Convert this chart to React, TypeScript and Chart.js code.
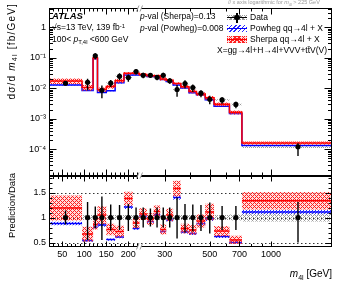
import React, { useEffect, useRef } from 'react';
import { Chart, Scale, registerables } from 'chart.js';

// ---------------- data ----------------
const BIN_EDGES = [20, 95, 120, 130, 150, 170, 190, 210, 225, 245, 265, 285, 305, 330, 360, 395, 430, 475, 525, 625, 720, 2000];
const DATA_XS = [0.0146, 0.0157, 0.116, 0.0086, 0.0149, 0.0247, 0.0224, 0.0352, 0.0267, 0.0267, 0.0229, 0.0267, 0.0176, 0.0091, 0.0143, 0.0105, 0.0069, 0.00436, 0.00413, 0.00294, 0.000119];
const DATA_ERR_UP = [0.14, 0.31, 0.22, 0.42, 0.26, 0.25, 0.27, 0.2, 0.2, 0.18, 0.2, 0.2, 0.2, 0.4, 0.27, 0.26, 0.25, 0.3, 0.23, 0.23, 0.31];
const DATA_ERR_DOWN = [0.14, 0.45, 0.22, 0.45, 0.26, 0.25, 0.27, 0.2, 0.2, 0.18, 0.2, 0.2, 0.2, 0.42, 0.3, 0.28, 0.27, 0.32, 0.25, 0.25, 0.5];
const DATA_SYST = [0.05, 0.05, 0.05, 0.05, 0.05, 0.05, 0.05, 0.05, 0.05, 0.05, 0.05, 0.05, 0.05, 0.05, 0.05, 0.05, 0.05, 0.05, 0.05, 0.06, 0.08];
const SHERPA_XS = [0.01737, 0.01052, 0.100, 0.00903, 0.01132, 0.01778, 0.03091, 0.03133, 0.02857, 0.0259, 0.02565, 0.02029, 0.01848, 0.01438, 0.01115, 0.00788, 0.00642, 0.00484, 0.00301, 0.00162, 0.000159];
const SHERPA_UNC = [0.21, 0.22, 0.12, 0.17, 0.15, 0.16, 0.1, 0.12, 0.11, 0.12, 0.11, 0.13, 0.12, 0.1, 0.12, 0.13, 0.14, 0.15, 0.14, 0.15, 0.13];
const POWHEG_XS = [0.01285, 0.00848, 0.094, 0.00731, 0.00834, 0.01507, 0.0271, 0.02746, 0.0275, 0.02456, 0.02427, 0.01922, 0.01672, 0.01274, 0.01015, 0.00714, 0.00607, 0.00423, 0.00256, 0.00147, 0.000132];
const POWHEG_UNC = [0.04, 0.05, 0.04, 0.04, 0.04, 0.04, 0.03, 0.03, 0.03, 0.03, 0.03, 0.03, 0.03, 0.03, 0.04, 0.04, 0.04, 0.04, 0.05, 0.05, 0.04];

const X_MIN = 20;
const X_MAX = 2000;
const X_BREAK = 225;
const X_MAJOR_TICKS = [50, 100, 150, 200, 300, 500, 700, 1000];
const X_MINOR_TICKS = [30, 40, 60, 70, 80, 90, 110, 120, 130, 140, 160, 170, 180, 190, 210, 220, 400, 600, 800, 900];
const Y_TOP_MIN = 1.3e-5;
const Y_TOP_MAX = 4.2;
const RATIO_MIN = 0.41;
const RATIO_MAX = 1.83;
const RATIO_TICKS = [0.5, 1, 1.5];
const RATIO_MINOR_TICKS = [0.6, 0.7, 0.8, 0.9, 1.1, 1.2, 1.3, 1.4, 1.6, 1.7, 1.8];

const FONT = "'Liberation Sans', Arial, Helvetica, sans-serif";

// ---------------- hybrid linear/log x scale ----------------
const LOG_K = 200; // linear-equivalent units per e-fold above the break
const fwd = (m: number) => (m <= X_BREAK ? m : X_BREAK + LOG_K * Math.log(m / X_BREAK));
const inv = (u: number) => (u <= X_BREAK ? u : X_BREAK * Math.exp((u - X_BREAK) / LOG_K));

class HybridScale extends Scale {
  static id = 'hybrid';
  static defaults = {};
  determineDataLimits() {
    this.min = X_MIN;
    this.max = X_MAX;
  }
  buildTicks() {
    return [...X_MAJOR_TICKS.map((v) => ({ value: v, major: true })), ...X_MINOR_TICKS.map((v) => ({ value: v }))].sort(
      (a, b) => a.value - b.value
    );
  }
  getLabelForValue(v: number) {
    return String(v);
  }
  getPixelForValue(v: number) {
    const a = fwd(this.min), b = fwd(this.max);
    return this.getPixelForDecimal((fwd(v) - a) / (b - a));
  }
  getValueForPixel(p: number) {
    const a = fwd(this.min), b = fwd(this.max);
    return inv(a + this.getDecimalForPixel(p) * (b - a));
  }
}

Chart.register(...registerables, HybridScale);

// ---------------- helpers ----------------
const CENTERS = DATA_XS.map((_, i) => (BIN_EDGES[i] + BIN_EDGES[i + 1]) / 2);

function stepSeries(vals: number[]) {
  const pts = vals.map((v, i) => ({ x: BIN_EDGES[i], y: v }));
  pts.push({ x: BIN_EDGES[vals.length], y: vals[vals.length - 1] });
  return pts;
}
function segSeries(vals: number[]) {
  const pts: any[] = [];
  vals.forEach((v, i) => {
    pts.push({ x: BIN_EDGES[i], y: v }, { x: BIN_EDGES[i + 1], y: v }, { x: BIN_EDGES[i + 1], y: null });
  });
  return pts;
}
function barSeries(lo: number[], hi: number[]) {
  const pts: any[] = [];
  CENTERS.forEach((x, i) => {
    pts.push({ x, y: lo[i] }, { x, y: hi[i] }, { x, y: null });
  });
  return pts;
}
function band(yAxisID: string, lo: number[], hi: number[], pattern: any, order: number) {
  return [
    { type: 'line', yAxisID, data: stepSeries(lo), stepped: true, borderWidth: 0, borderColor: 'transparent', pointRadius: 0, fill: false, order },
    { type: 'line', yAxisID, data: stepSeries(hi), stepped: true, borderWidth: 0, borderColor: 'transparent', pointRadius: 0, fill: '-1', backgroundColor: pattern, order },
  ];
}

function makePattern(kind: 'red' | 'blue' | 'gray') {
  const c = document.createElement('canvas');
  const s = kind === 'blue' ? 3 : 4;
  c.width = s;
  c.height = s;
  const g = c.getContext('2d')!;
  if (kind === 'red') {
    g.fillStyle = 'rgba(255,120,120,0.25)';
    g.fillRect(0, 0, s, s);
  }
  g.fillStyle = kind === 'red' ? '#ff2020' : kind === 'blue' ? '#2a2aff' : '#9a9a9a';
  for (let x = 0; x < s; x++)
    for (let y = 0; y < s; y++) {
      const d1 = (x + y) % s === 0;
      const d2 = (x - y + s) % s === 0;
      if (kind === 'blue' ? d1 : d1 || d2) g.fillRect(x, y, 1, 1);
    }
  return g.createPattern(c, 'repeat');
}

const SUP: Record<string, string> = { '-': '⁻', '0': '⁰', '1': '¹', '2': '²', '3': '³', '4': '⁴', '5': '⁵', '6': '⁶', '7': '⁷', '8': '⁸', '9': '⁹' };
const isPow10 = (v: number) => Math.abs(Math.log10(v) - Math.round(Math.log10(v))) < 1e-6;

const framePlugin = {
  id: 'rootFrame',
  beforeDatasetsDraw(chart: any) {
    const { ctx, chartArea } = chart;
    const yb = chart.scales.yBot;
    ctx.save();
    ctx.strokeStyle = '#000';
    ctx.lineWidth = 0.8;
    ctx.setLineDash([1.5, 2.5]);
    for (const v of RATIO_TICKS) {
      const y = Math.round(yb.getPixelForValue(v)) + 0.5;
      ctx.beginPath();
      ctx.moveTo(chartArea.left, y);
      ctx.lineTo(chartArea.right, y);
      ctx.stroke();
    }
    ctx.restore();
  },
  afterDatasetsDraw(chart: any) {
    const { ctx, chartArea } = chart;
    const xs = chart.scales.x, yt = chart.scales.yTop, yb = chart.scales.yBot;
    const x0 = Math.round(chartArea.left) + 0.5;
    const x1 = Math.round(chartArea.right) - 0.5;
    const line = (a: number, b: number, c: number, d: number) => {
      ctx.beginPath();
      ctx.moveTo(a, b);
      ctx.lineTo(c, d);
      ctx.stroke();
    };
    ctx.save();
    ctx.strokeStyle = '#000';
    ctx.lineWidth = 1;
    const panels = [yt, yb].map((s) => ({ s, t: Math.round(s.top) + 0.5, b: Math.round(s.bottom) - 0.5 }));
    for (const p of panels) ctx.strokeRect(x0, p.t, x1 - x0, p.b - p.t);
    // y ticks
    for (const t of yt.ticks) {
      const y = Math.round(yt.getPixelForValue(t.value)) + 0.5;
      const len = isPow10(t.value) ? 7 : 3.5;
      line(x0, y, x0 + len, y);
      line(x1, y, x1 - len, y);
    }
    for (const v of [...RATIO_TICKS, ...RATIO_MINOR_TICKS]) {
      const y = Math.round(yb.getPixelForValue(v)) + 0.5;
      const len = RATIO_TICKS.includes(v) ? 6 : 3;
      line(x0, y, x0 + len, y);
      line(x1, y, x1 - len, y);
    }
    // x ticks
    for (const v of [...X_MAJOR_TICKS, ...X_MINOR_TICKS]) {
      const x = Math.round(xs.getPixelForValue(v)) + 0.5;
      const maj = X_MAJOR_TICKS.includes(v);
      const lu = maj ? 6 : 3;
      const ll = maj ? 5 : 2.5;
      line(x, panels[0].t, x, panels[0].t + lu);
      line(x, panels[0].b, x, panels[0].b - lu);
      line(x, panels[1].t, x, panels[1].t + ll);
      line(x, panels[1].b, x, panels[1].b - ll);
    }
    // axis break markers
    const xb = Math.round(xs.getPixelForValue(X_BREAK)) + 0.5;
    ctx.strokeStyle = '#9a9a9a';
    for (const y of [panels[0].t, panels[0].b, panels[1].b]) {
      ctx.fillStyle = '#fff';
      ctx.fillRect(xb - 1.5, y - 2, 3, 4);
      line(xb - 3, y + 3, xb - 0.5, y - 3);
      line(xb + 0.5, y + 3, xb + 3, y - 3);
    }
    ctx.restore();
  },
};

function buildConfig() {
  const red = makePattern('red');
  const blue = makePattern('blue');
  const gray = makePattern('gray');
  const sherpaRatio = SHERPA_XS.map((v, i) => v / DATA_XS[i]);
  const powhegRatio = POWHEG_XS.map((v, i) => v / DATA_XS[i]);
  const datasets: any[] = [
    // ---- upper panel ----
    ...band('yTop', DATA_XS.map((v, i) => v * (1 - DATA_SYST[i])), DATA_XS.map((v, i) => v * (1 + DATA_SYST[i])), gray, 12),
    ...band('yTop', POWHEG_XS.map((v, i) => v * (1 - POWHEG_UNC[i])), POWHEG_XS.map((v, i) => v * (1 + POWHEG_UNC[i])), blue, 11),
    { type: 'line', yAxisID: 'yTop', data: stepSeries(POWHEG_XS), stepped: true, borderColor: '#0000ff', borderWidth: 1.5, pointRadius: 0, fill: false, order: 10 },
    ...band('yTop', SHERPA_XS.map((v, i) => v * (1 - SHERPA_UNC[i])), SHERPA_XS.map((v, i) => v * (1 + SHERPA_UNC[i])), red, 9),
    { type: 'line', yAxisID: 'yTop', data: stepSeries(SHERPA_XS), stepped: true, borderColor: '#ff0000', borderWidth: 1.5, pointRadius: 0, fill: false, order: 8 },
    { type: 'line', yAxisID: 'yTop', data: barSeries(DATA_XS.map((v, i) => v * (1 - DATA_ERR_DOWN[i])), DATA_XS.map((v, i) => v * (1 + DATA_ERR_UP[i]))), borderColor: '#000', borderWidth: 1.4, pointRadius: 0, fill: false, order: 1 },
    { type: 'line', yAxisID: 'yTop', data: CENTERS.map((x, i) => ({ x, y: DATA_XS[i] })), showLine: false, pointRadius: 2.6, pointBackgroundColor: '#000', pointBorderWidth: 0, order: 0 },
    // ---- ratio panel ----
    ...band('yBot', DATA_SYST.map((u) => 1 - u), DATA_SYST.map((u) => 1 + u), gray, 12),
    ...band('yBot', powhegRatio.map((r, i) => r * (1 - POWHEG_UNC[i])), powhegRatio.map((r, i) => r * (1 + POWHEG_UNC[i])), blue, 11),
    { type: 'line', yAxisID: 'yBot', data: segSeries(powhegRatio), borderColor: '#0000ff', borderWidth: 1.5, pointRadius: 0, fill: false, order: 10 },
    ...band('yBot', sherpaRatio.map((r, i) => r * (1 - SHERPA_UNC[i])), sherpaRatio.map((r, i) => r * (1 + SHERPA_UNC[i])), red, 9),
    { type: 'line', yAxisID: 'yBot', data: segSeries(sherpaRatio), borderColor: '#ff0000', borderWidth: 1.5, pointRadius: 0, fill: false, order: 8 },
    { type: 'line', yAxisID: 'yBot', data: barSeries(DATA_ERR_DOWN.map((e) => 1 - e), DATA_ERR_UP.map((e) => 1 + e)), borderColor: '#000', borderWidth: 1.4, pointRadius: 0, fill: false, order: 1 },
    { type: 'line', yAxisID: 'yBot', data: CENTERS.map((x) => ({ x, y: 1 })), showLine: false, pointRadius: 2.6, pointBackgroundColor: '#000', pointBorderWidth: 0, order: 0 },
  ];

  const tickFont = { family: FONT, size: 9 };
  return {
    type: 'line',
    data: { datasets },
    plugins: [framePlugin],
    options: {
      responsive: false,
      maintainAspectRatio: false,
      animation: false,
      devicePixelRatio: 1,
      events: [],
      layout: { padding: { left: 0, right: 17, top: 8, bottom: 0 } },
      plugins: { legend: { display: false }, tooltip: { enabled: false }, title: { display: false } },
      scales: {
        x: {
          type: 'hybrid',
          position: 'bottom',
          grid: { display: false, drawTicks: false },
          border: { display: false },
          ticks: {
            autoSkip: false,
            maxRotation: 0,
            padding: 2,
            color: '#000',
            font: tickFont,
            callback: (v: number) => (X_MAJOR_TICKS.includes(v) ? String(v) : ''),
          },
          afterFit: (s: any) => {
            s.height = 48;
          },
        },
        yTop: {
          type: 'logarithmic',
          position: 'left',
          stack: 'panels',
          stackWeight: 168,
          weight: 1,
          min: Y_TOP_MIN,
          max: Y_TOP_MAX,
          grid: { display: false, drawTicks: false },
          border: { display: false },
          afterBuildTicks: (s: any) => {
            const t: any[] = [];
            for (let e = -6; e <= 1; e++)
              for (let k = 1; k <= 9; k++) {
                const v = k * Math.pow(10, e);
                if (v >= s.min && v <= s.max) t.push({ value: v });
              }
            s.ticks = t;
          },
          ticks: {
            autoSkip: false,
            padding: 3,
            color: '#000',
            font: tickFont,
            callback: (v: number) => {
              if (!isPow10(v)) return '';
              const e = Math.round(Math.log10(v));
              if (e === 0) return '1';
              return '10' + String(e).split('').map((ch) => SUP[ch]).join('');
            },
          },
          afterFit: (s: any) => {
            s.width = 49;
          },
        },
        yBot: {
          type: 'linear',
          position: 'left',
          stack: 'panels',
          stackWeight: 71,
          weight: 0,
          min: RATIO_MIN,
          max: RATIO_MAX,
          grid: { display: false, drawTicks: false },
          border: { display: false },
          afterBuildTicks: (s: any) => {
            s.ticks = RATIO_TICKS.map((v) => ({ value: v }));
          },
          ticks: {
            autoSkip: false,
            padding: 3,
            color: '#000',
            font: tickFont,
            callback: (v: number) => String(v),
          },
          afterFit: (s: any) => {
            s.width = 49;
          },
        },
      },
    },
  };
}

// ---------------- overlay text helpers ----------------
function Txt(props: { x: number; y: number; size: number; right?: boolean; style?: any; children: any }) {
  const { x, y, size, right, style, children } = props;
  const pos: any = right ? { right: 349 - x } : { left: x };
  return (
    <div
      style={{
        position: 'absolute',
        ...pos,
        top: y - 0.86 * size,
        fontSize: size,
        lineHeight: `${size}px`,
        whiteSpace: 'nowrap',
        color: '#000',
        ...style,
      }}
    >
      {children}
    </div>
  );
}
const Sub = ({ children }: any) => <span style={{ fontSize: '70%', position: 'relative', top: '0.35em' }}>{children}</span>;
const Sup = ({ children }: any) => <span style={{ fontSize: '70%', position: 'relative', top: '-0.45em' }}>{children}</span>;

const redHatch =
  'repeating-linear-gradient(45deg, #ff2020 0 1px, transparent 1px 3px), repeating-linear-gradient(-45deg, #ff2020 0 1px, transparent 1px 3px), rgba(255,120,120,0.25)';
const blueHatch = 'repeating-linear-gradient(-45deg, #2a2aff 0 1px, transparent 1px 3px)';
const grayHatch =
  'repeating-linear-gradient(45deg, #9a9a9a 0 1px, transparent 1px 3px), repeating-linear-gradient(-45deg, #9a9a9a 0 1px, transparent 1px 3px)';

function Swatch(props: { y: number; h: number; bg: string; line: string; data?: boolean }) {
  const { y, h, bg, line, data } = props;
  return (
    <div style={{ position: 'absolute', left: 227, top: y - h / 2, width: 20, height: h, background: bg }}>
      <div style={{ position: 'absolute', left: 0, right: 0, top: h / 2 - 0.75, height: 1.5, background: line }} />
      {data ? (
        <>
          <div style={{ position: 'absolute', left: 9.3, top: h / 2 - 5, width: 1.4, height: 10, background: '#000' }} />
          <div style={{ position: 'absolute', left: 7.4, top: h / 2 - 2.6, width: 5.2, height: 5.2, borderRadius: '50%', background: '#000' }} />
        </>
      ) : null}
    </div>
  );
}

export default function App() {
  const ref = useRef<HTMLCanvasElement>(null);
  useEffect(() => {
    document.body.style.margin = '0';
    const chart = new Chart(ref.current as HTMLCanvasElement, buildConfig() as any);
    return () => chart.destroy();
  }, []);
  return (
    <div style={{ position: 'relative', width: 349, height: 295, overflow: 'hidden', background: '#fff', fontFamily: FONT }}>
      <canvas ref={ref} width={349} height={295} style={{ position: 'absolute', left: 0, top: 0, width: 349, height: 295 }} />

      <Txt x={228} y={5} size={5.5} style={{ color: '#9a9a9a' }}>
        // x axis logarithmic for <i>m</i>
        <Sub>4l</Sub> &gt; 225 GeV
      </Txt>

      <Txt x={52} y={19.5} size={9.5} style={{ fontWeight: 'bold', fontStyle: 'italic' }}>
        ATLAS
      </Txt>
      <Txt x={52} y={30.5} size={8.5}>
        √s=13 TeV, 139 fb<Sup>-1</Sup>
      </Txt>
      <Txt x={52} y={42} size={8.5}>
        100&lt; <i>p</i>
        <Sub>T,4l</Sub> &lt;600 GeV
      </Txt>
      <Txt x={140} y={19.5} size={8.5}>
        <i>p</i>-val (Sherpa)=0.13
      </Txt>
      <Txt x={140} y={31} size={8.5}>
        <i>p</i>-val (Powheg)=0.008
      </Txt>

      <Swatch y={17.5} h={5} bg={grayHatch} line="#000" data />
      <Swatch y={28.5} h={7} bg={blueHatch} line="#0000ff" />
      <Swatch y={39.5} h={7} bg={redHatch} line="#ff0000" />
      <Txt x={250} y={20.5} size={8.5}>
        Data
      </Txt>
      <Txt x={250} y={31.5} size={8.5}>
        Powheg qq→4l + X
      </Txt>
      <Txt x={250} y={42.5} size={8.5}>
        Sherpa qq→4l + X
      </Txt>
      <Txt x={217} y={53} size={8.5}>
        X=gg→4l+H→4l+VVV+tt̄V(V)
      </Txt>

      <div
        style={{
          position: 'absolute',
          left: 6,
          top: 3 + 160,
          width: 160,
          height: 12,
          lineHeight: '12px',
          fontSize: 10,
          letterSpacing: '1.2px',
          textAlign: 'right',
          whiteSpace: 'nowrap',
          transform: 'rotate(-90deg)',
          transformOrigin: '0 0',
        }}
      >
        dσ/d <i>m</i>
        <Sub>4l</Sub> [fb/GeV]
      </div>
      <div
        style={{
          position: 'absolute',
          left: 6,
          top: 173 + 100,
          width: 100,
          height: 12,
          lineHeight: '12px',
          fontSize: 9.5,
          textAlign: 'right',
          whiteSpace: 'nowrap',
          transform: 'rotate(-90deg)',
          transformOrigin: '0 0',
        }}
      >
        Prediction/Data
      </div>
      <Txt x={332} y={278} size={10} right>
        <i>m</i>
        <Sub>4l</Sub> [GeV]
      </Txt>
    </div>
  );
}
